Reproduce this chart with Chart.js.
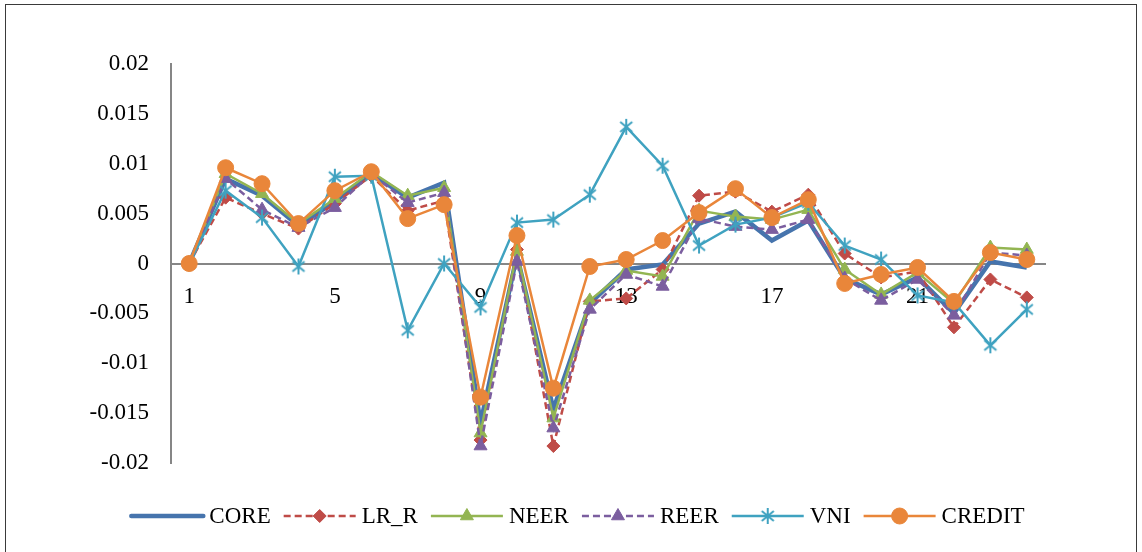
<!DOCTYPE html>
<html>
<head>
<meta charset="utf-8">
<script src="https://cdn.jsdelivr.net/npm/chart.js@4.4.0/dist/chart.umd.min.js"></script>
<style>
  html, body { margin: 0; padding: 0; background: #fff; }
  #wrap { position: relative; width: 1142px; height: 552px; overflow: hidden; }
  #frame { position: absolute; left: 5px; top: 4px; width: 1132px; height: 560px; border: 1.5px solid #3a3a3a; box-sizing: border-box; }
  #myChart { position: absolute; left: 0; top: 0; }
</style>
</head>
<body>
<div id="wrap">
  <div id="frame"></div>
  <canvas id="myChart" width="1142" height="552"></canvas>
</div>
<script>
// categories 1..24
var periods = ['1','2','3','4','5','6','7','8','9','10','11','12','13','14','15','16','17','18','19','20','21','22','23','24'];

// series values
var core   = [0, 0.0085, 0.0068, 0.0038, 0.0062, 0.009, 0.0066, 0.0081, -0.016, 0.0008, -0.0146, -0.004, -0.0006, -0.0001, 0.004, 0.0052, 0.0023, 0.0043, -0.0015, -0.0031, -0.0014, -0.005, 0.0002, -0.0004];
var lrR    = [0, 0.0066, 0.005, 0.0035, 0.006, 0.0088, 0.0053, 0.0063, -0.0177, 0.0014, -0.0183, -0.0038, -0.0035, -0.0006, 0.0068, 0.0072, 0.0052, 0.0069, 0.001, -0.0014, -0.0008, -0.0064, -0.0016, -0.0034];
var neer   = [0, 0.009, 0.007, 0.004, 0.0065, 0.0092, 0.0068, 0.0076, -0.017, 0.0012, -0.0155, -0.0037, -0.0007, -0.0013, 0.0053, 0.0047, 0.0044, 0.0054, -0.0006, -0.0031, -0.0009, -0.004, 0.0016, 0.0014];
var reer   = [0, 0.0085, 0.0054, 0.0036, 0.0056, 0.009, 0.0061, 0.0071, -0.0183, 0.0002, -0.0165, -0.0046, -0.0011, -0.0023, 0.0045, 0.0037, 0.0034, 0.0044, -0.0015, -0.0037, -0.0016, -0.0052, 0.0011, 0.0008];
var vni    = [0, 0.0073, 0.0046, -0.0003, 0.0087, 0.0088, -0.0067, 0, -0.0044, 0.0041, 0.0044, 0.0069, 0.0137, 0.0098, 0.0018, 0.0039, 0.0046, 0.0061, 0.0018, 0.0004, -0.0032, -0.0039, -0.0082, -0.0046];
var credit = [0, 0.0096, 0.008, 0.004, 0.0073, 0.0092, 0.0045, 0.0059, -0.0134, 0.0028, -0.0125, -0.0003, 0.0004, 0.0023, 0.0051, 0.0075, 0.0046, 0.0064, -0.002, -0.0011, -0.0004, -0.0038, 0.0011, 0.0004];

var seriesNames = ['CORE', 'LR_R', 'NEER', 'REER', 'VNI', 'CREDIT'];
var yTicks = [0.02, 0.015, 0.01, 0.005, 0, -0.005, -0.01, -0.015, -0.02];

var FONT = '"Liberation Serif", "Times New Roman", serif';

// asterisk marker (x with a vertical bar), like the Excel one
function makeStar(color) {
    var c = document.createElement('canvas');
    c.width = 18; c.height = 18;
    var g = c.getContext('2d');
    g.strokeStyle = color;
    g.lineWidth = 2;
    g.beginPath();
    g.moveTo(3, 4); g.lineTo(15, 14);
    g.moveTo(15, 4); g.lineTo(3, 14);
    g.moveTo(9, 1); g.lineTo(9, 17);
    g.stroke();
    return c;
}
var starImg = makeStar('#3fa2c0');

function makeSet(label, data, color, opts) {
    var ds = {
        label: label,
        data: data,
        borderColor: color,
        backgroundColor: color,
        pointBackgroundColor: color,
        pointBorderColor: color,
        borderWidth: 2.5,
        tension: 0,
        pointRadius: 7,
        pointHoverRadius: 7,
        pointBorderWidth: 1
    };
    for (var k in opts) { ds[k] = opts[k]; }
    return ds;
}

var datasets = [
    makeSet(seriesNames[0], core, '#4674ad', { borderWidth: 4.5, pointRadius: 0, pointStyle: false, order: 5 }),
    makeSet(seriesNames[1], lrR, '#bf4b47', { borderDash: [7, 4], pointStyle: 'rectRot', pointRadius: 6.5, order: 4 }),
    makeSet(seriesNames[2], neer, '#93b552', { pointStyle: 'triangle', pointRadius: 7.5, order: 3 }),
    makeSet(seriesNames[3], reer, '#7b5e9f', { borderDash: [7, 4], pointStyle: 'triangle', pointRadius: 7.5, order: 2 }),
    makeSet(seriesNames[4], vni, '#3fa2c0', { pointStyle: starImg, pointRadius: 9, order: 1 }),
    makeSet(seriesNames[5], credit, '#e9863a', { pointStyle: 'circle', pointRadius: 8, order: 0 })
];

// legend drawn by hand: line with marker in the middle, then text
var legendPlugin = {
    id: 'lineLegend',
    afterDraw: function (chart) {
        var ctx = chart.ctx;
        var y = 516;
        var lineLen = 72, gapText = 6, gapItem = 13;
        ctx.save();
        ctx.font = '23px ' + FONT;
        var total = 0;
        var widths = [];
        for (var i = 0; i < datasets.length; i++) {
            var w = ctx.measureText(datasets[i].label).width;
            widths.push(w);
            total += lineLen + gapText + w + (i < datasets.length - 1 ? gapItem : 0);
        }
        var x = 578 - total / 2;
        for (var i = 0; i < datasets.length; i++) {
            var ds = datasets[i];
            ctx.strokeStyle = ds.borderColor;
            ctx.lineWidth = ds.borderWidth;
            ctx.lineCap = ds.label == 'CORE' ? 'round' : 'butt';
            ctx.setLineDash(ds.borderDash || []);
            ctx.beginPath();
            ctx.moveTo(x, y);
            ctx.lineTo(x + lineLen, y);
            ctx.stroke();
            ctx.setLineDash([]);
            if (ds.pointStyle) {
                ctx.fillStyle = ds.backgroundColor;
                ctx.lineWidth = 1;
                Chart.helpers.drawPoint(ctx, { pointStyle: ds.pointStyle, radius: ds.pointRadius, borderWidth: 1, rotation: 0 }, x + lineLen / 2, y);
            }
            ctx.fillStyle = '#000';
            ctx.textBaseline = 'middle';
            ctx.textAlign = 'left';
            ctx.fillText(ds.label, x + lineLen + gapText, y + 1);
            x += lineLen + gapText + widths[i] + gapItem;
        }
        ctx.restore();
    }
};

var ctx = document.getElementById('myChart');
var chart = new Chart(ctx, {
    type: 'line',
    data: { labels: periods, datasets: datasets },
    options: {
        responsive: false,
        animation: false,
        devicePixelRatio: 1,
        layout: { padding: { left: 0, top: 64, right: 97, bottom: 89 } },
        plugins: {
            legend: { display: false },
            tooltip: { enabled: false }
        },
        scales: {
            x: {
                position: { y: 0 },
                offset: true,
                grid: { display: false, drawTicks: false },
                border: { display: true, color: '#868686', width: 2 },
                afterFit: function (scale) { scale.height = 0; },
                ticks: {
                    autoSkip: false,
                    maxRotation: 0,
                    padding: 20,
                    color: '#000',
                    font: { family: FONT, size: 23 },
                    callback: function (v, i) { return i % 4 == 0 ? periods[i] : ''; }
                }
            },
            y: {
                min: -0.02,
                max: 0.02,
                afterFit: function (scale) { scale.width = 171; },
                afterBuildTicks: function (scale) {
                    scale.ticks = yTicks.map(function (v) { return { value: v }; });
                },
                grid: { display: false, drawTicks: false },
                border: { display: true, color: '#868686', width: 2 },
                ticks: {
                    padding: 22,
                    color: '#000',
                    font: { family: FONT, size: 23 },
                    callback: function (v) { return String(+Number(v).toFixed(3)); }
                }
            }
        }
    },
    plugins: [legendPlugin]
});
</script>
</body>
</html>
